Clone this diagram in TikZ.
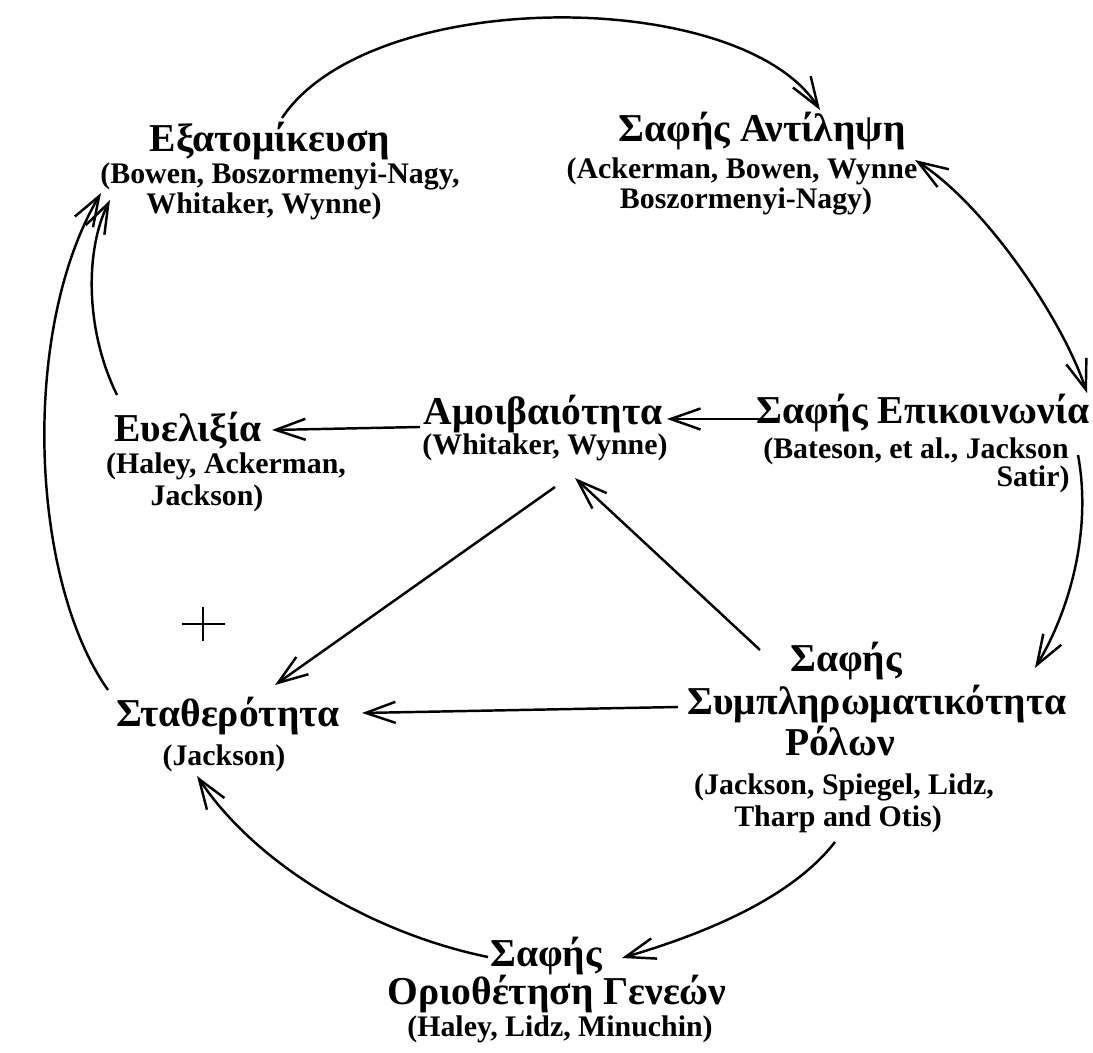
\documentclass[tikz,border=0pt]{standalone}
\usepackage{fontspec}
\setmainfont{Liberation Serif}
\usetikzlibrary{arrows.meta,calc}
\begin{document}
\begin{tikzpicture}[x=0.02cm,y=-0.02cm,
  title/.style={font=\fontsize{22.5}{26}\selectfont\bfseries, inner sep=0pt, anchor=base},
  auth/.style={font=\fontsize{17}{20}\selectfont\bfseries, inner sep=0pt, anchor=base},
  conn/.style={line width=1.4pt, -{Straight Barb[length=17pt,width=12pt]}},
  dconn/.style={line width=1.4pt, {Straight Barb[length=17pt,width=12pt]}-{Straight Barb[length=17pt,width=12pt]}},
  ]
\useasboundingbox[fill=white] (0,0) rectangle (1093,1053);
% nodes
\node[title] (ex) at (270,152) {Εξατομίκευση};
\node[auth] (exa1) at (280,184) {(Bowen, Boszormenyi-Nagy,};
\node[auth] (exa2) at (264,214) {Whitaker, Wynne)};
\node[title] (ant) at (762,142) {Σαφής Αντίληψη};
\node[auth] (anta1) at (742,179) {(Ackerman, Bowen, Wynne};
\node[auth] (anta2) at (746,209) {Boszormenyi-Nagy)};
\node[title] (epi) at (923,424) {Σαφής Επικοινωνία};
\node[auth] (epia1) at (916,459) {(Bateson, et al., Jackson};
\node[auth] (epia2) at (1033,487) {Satir)};
\node[title] (amo) at (543,425) {Αμοιβαιότητα};
\node[auth] (amoa) at (545,455) {(Whitaker, Wynne)};
\node[title] (eve) at (188,442) {Ευελιξία};
\node[auth] (evea1) at (226,474) {(Haley, Ackerman,};
\node[auth] (evea2) at (207,506) {Jackson)};
\node[title] (sta) at (228,727) {Σταθερότητα};
\node[auth] (staa) at (224,766) {(Jackson)};
\node[title] (sym1) at (846,672) {Σαφής};
\node[title] (sym2) at (877,715) {Συμπληρωματικότητα};
\node[title] (sym3) at (840,756) {Ρόλων};
\node[auth] (syma1) at (844,795) {(Jackson, Spiegel, Lidz,};
\node[auth] (syma2) at (838,827) {Tharp and Otis)};
\node[title] (ori1) at (546,967) {Σαφής};
\node[title] (ori2) at (557,1005) {Οριοθέτηση Γενεών};
\node[auth] (oria) at (560,1037) {(Haley, Lidz, Minuchin)};
% plus sign
\draw[line width=1.3pt] (182,624) -- (225,624) (203,607) -- (203,641);
% connectors
\draw[conn] ($(ex.base)+(12,-34)$) .. controls +(88,-132) and +(-80,-124) .. ($(ant.base)+(58,-32)$);
\draw[dconn] ($(anta1.base)+(173,-19)$) .. controls +(70,45) and +(-25,-75) .. ($(epi.base)+(164,-31)$);
\draw[conn] ($(epia1.base)+(162,-4)$) .. controls +(14,75) and +(35,-58) .. ($(sym2.base)+(158,-47)$);
\draw[conn] ($(epi.base)+(-155,-5)$) -- ($(amo.base)+(124,-6)$);
\draw[conn] ($(amo.base)+(-123,2)$) -- ($(eve.base)+(84,-12)$);
\draw[conn] ($(amoa.base)+(10,32)$) -- ($(sta.base)+(47,-42)$);
\draw[conn] ($(sym1.base)+(-86,-22)$) -- ($(amoa.base)+(30,23)$);
\draw[conn] ($(sym2.base)+(-199,-8)$) -- ($(sta.base)+(134,-14)$);
\draw[conn] ($(syma2.base)+(-3,15)$) .. controls +(-45,58) and +(78,-23) .. ($(ori1.base)+(76,-9)$);
\draw[conn] ($(ori1.base)+(-58,-10)$) .. controls +(-108,-22) and +(63,94) .. ($(staa.base)+(-27,10)$);
\draw[conn] ($(sta.base)+(-120,-37)$) .. controls +(-78,-110) and +(-81,137) .. ($(exa1.base)+(-179,9)$);
\draw[conn] ($(eve.base)+(-71,-47)$) .. controls +(-32,-65) and +(-25,50) .. ($(exa1.base)+(-170,16)$);
\end{tikzpicture}
\end{document}
